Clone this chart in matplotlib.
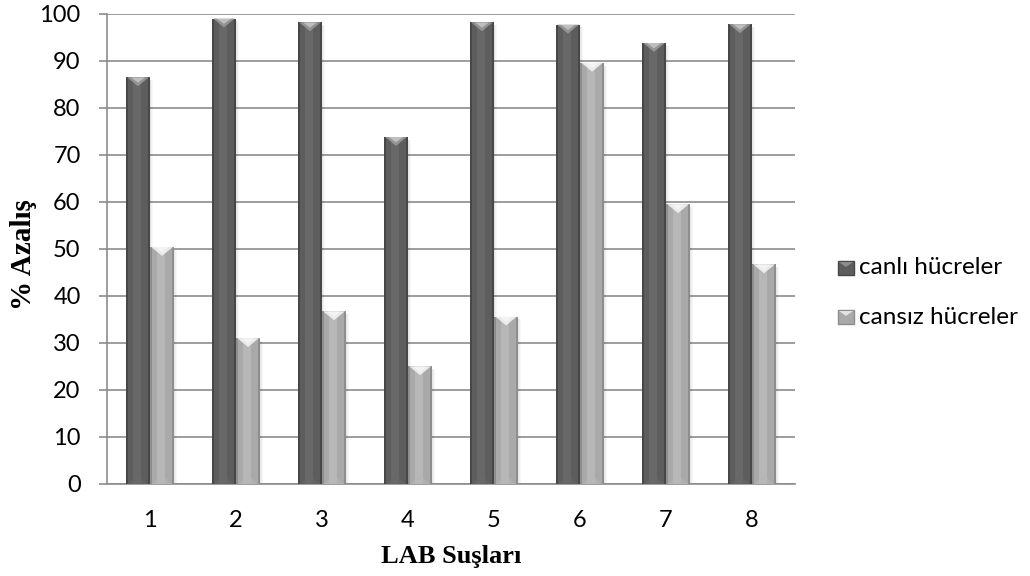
import matplotlib.pyplot as plt
import numpy as np
from matplotlib.patches import Polygon, Rectangle

strains = ["1", "2", "3", "4", "5", "6", "7", "8"]
live_cells = [86.5, 99.0, 98.2, 73.8, 98.2, 97.7, 93.8, 97.8]
dead_cells = [50.4, 31.0, 36.7, 25.0, 35.6, 89.6, 59.5, 46.7]
series_names = ["canlı hücreler", "cansız hücreler"]
series_colors = [("#5d5d5d", "#686868", "#474747", "#9a9a9a"),
                 ("#a9a9a9", "#b7b7b7", "#8e8e8e", "#f2f2f2")]

tick_font = "Lato"
label_font = "Liberation Serif"

fig = plt.figure(figsize=(10.3, 5.76), dpi=100)
ax = fig.add_axes([0.1039, 0.16, 0.668, 0.816])

x = np.arange(len(strains))
width = 0.28


def bevel_bar(xc, h, colors):
    base, light, dark, top = colors
    left = xc - width / 2
    # soft shadow on the right
    for i, a in enumerate([0.10, 0.06, 0.03]):
        ax.add_patch(Rectangle((left + width + i * 0.012, 0), 0.012, h - 0.6,
                               color="black", alpha=a, lw=0, zorder=2))
    # cylinder-like shading: dark edges, lighter middle
    ax.bar(xc, h, width, color=dark, lw=0, zorder=3)
    ax.bar(xc, h, width * 0.8, color=base, lw=0, zorder=3)
    ax.bar(xc - width * 0.05, h, width * 0.35, color=light, lw=0, zorder=3)
    # bevelled top
    tri_h = 1.9
    ax.add_patch(Polygon([(left + width * 0.05, h), (left + width * 0.95, h),
                          (xc, h - tri_h)], closed=True,
                         facecolor=top, edgecolor="none", alpha=0.9, zorder=4))
    ax.add_patch(Polygon([(left + width * 0.2, h), (left + width * 0.8, h),
                          (xc, h - tri_h * 0.6)], closed=True,
                         facecolor="white", edgecolor="none", alpha=0.4, zorder=4))
    # faint bevel at the bottom
    ax.add_patch(Polygon([(left + width * 0.1, 0), (left + width * 0.9, 0),
                          (xc, tri_h)], closed=True,
                         facecolor=light, edgecolor="none", alpha=0.6, zorder=4))


for xi, v in zip(x, live_cells):
    bevel_bar(xi - width / 2, v, series_colors[0])
for xi, v in zip(x, dead_cells):
    bevel_bar(xi + width / 2, v, series_colors[1])

ax.set_xlim(-0.5, len(strains) - 0.5)
ax.set_ylim(0, 100)
ax.set_yticks(np.arange(0, 101, 10))
ax.set_xticks(x)
ax.set_xticklabels(strains)
ax.grid(axis="y", color="#8c8c8c", lw=1.2, zorder=1)
ax.set_axisbelow(True)

for s in ["top", "right"]:
    ax.spines[s].set_visible(False)
for s in ["left", "bottom"]:
    ax.spines[s].set_color("#8c8c8c")
    ax.spines[s].set_linewidth(1.2)
ax.tick_params(axis="y", length=6, width=1.2, color="#8c8c8c", direction="out",
               labelsize=17, pad=13)
ax.tick_params(axis="x", length=0, labelsize=17, pad=19)
for lab in ax.get_xticklabels() + ax.get_yticklabels():
    lab.set_fontfamily(tick_font)

ax.set_xlabel("LAB Suşları", fontfamily=label_font, fontweight="bold",
              fontsize=19, labelpad=10)
ax.set_ylabel("% Azalış", fontfamily=label_font, fontweight="bold", fontsize=21)
ax.yaxis.set_label_coords(-0.102, 0.487)

# legend, drawn by hand in figure pixels
W, H = 1030, 576
for i, (name, cols) in enumerate(zip(series_names, series_colors)):
    yc = 268 + i * 49
    fig.patches.append(Rectangle((838 / W, 1 - (yc + 7) / H), 16 / W, 14 / H,
                                 facecolor=cols[0], edgecolor=cols[2], lw=1,
                                 transform=fig.transFigure, figure=fig))
    fig.patches.append(Polygon([(839 / W, 1 - (yc - 6) / H), (853 / W, 1 - (yc - 6) / H),
                                (846 / W, 1 - (yc - 1) / H)], closed=True,
                               facecolor=cols[3], edgecolor="none", alpha=0.8,
                               transform=fig.transFigure, figure=fig))
    fig.text(859 / W, 1 - yc / H, name, fontfamily=tick_font, fontsize=17.5,
             va="center", ha="left")

fig.savefig("out.png", dpi=100)
